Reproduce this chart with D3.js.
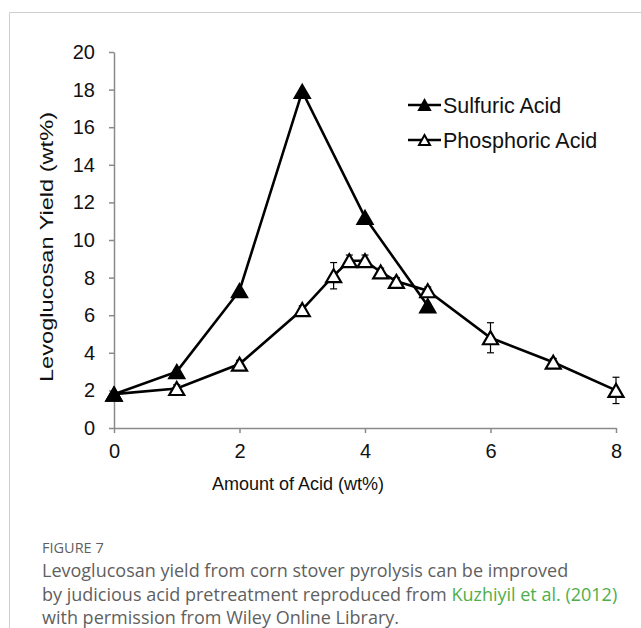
<!DOCTYPE html>
<html>
<head>
<meta charset="utf-8">
<script src="https://cdn.jsdelivr.net/npm/d3@7"></script>
<style>
  html, body { margin: 0; padding: 0; background: #fff; }
  svg { display: block; }
  .axis path, .axis line { stroke: #8a8a8a; stroke-width: 1.5; }
  .axis text { font-family: 'Liberation Sans', Arial, sans-serif; font-size: 20px; fill: #111; }
</style>
</head>
<body>
<div id="chart"></div>
<script>
// acid loading (wt%) and levoglucosan yield (wt%)
var sulfuricX = [0, 1, 2, 3, 4, 5]
var sulfuricY = [1.8, 3.0, 7.3, 17.9, 11.2, 6.5]

var phosphoricX = [0, 1, 2, 3, 3.5, 3.75, 4, 4.25, 4.5, 5, 6, 7, 8]
var phosphoricY = [1.8, 2.1, 3.4, 6.3, 8.1, 8.9, 8.9, 8.3, 7.8, 7.3, 4.8, 3.5, 2.0]
var phosphoricErr = [0.1, 0.2, 0.2, 0.2, 0.7, 0.3, 0.3, 0.2, 0.2, 0.2, 0.8, 0.2, 0.7]

var xTicks = [0, 2, 4, 6, 8]
var yTicks = [0, 2, 4, 6, 8, 10, 12, 14, 16, 18, 20]
var seriesNames = ['Sulfuric Acid', 'Phosphoric Acid']

var width = 641
var height = 628

var svg = d3.select('#chart').append('svg')
  .attr('width', width)
  .attr('height', height)

// card frame
svg.append('path')
  .attr('d', 'M9.5,' + height + 'V12.5H' + width)
  .attr('fill', 'none')
  .attr('stroke', '#cfcfcf')
  .attr('stroke-width', 1)

var x = d3.scaleLinear().domain([0, 8]).range([114, 616])
var y = d3.scaleLinear().domain([0, 20]).range([428, 52])

var xAxis = d3.axisBottom(x).tickValues(xTicks).tickSize(5).tickSizeOuter(0).tickPadding(11)
var yAxis = d3.axisLeft(y).tickValues(yTicks).tickSize(5).tickSizeOuter(0).tickPadding(14)

svg.append('g')
  .attr('class', 'x axis')
  .attr('transform', 'translate(0,' + y(0) + ')')
  .call(xAxis)

svg.append('g')
  .attr('class', 'y axis')
  .attr('transform', 'translate(' + x(0) + ',0)')
  .call(yAxis)

// axis titles
svg.append('text')
  .attr('x', 298)
  .attr('y', 490)
  .attr('text-anchor', 'middle')
  .style('font-family', "'Liberation Sans', Arial, sans-serif")
  .style('font-size', '18px')
  .attr('fill', '#111')
  .text('Amount of Acid (wt%)')

svg.append('text')
  .attr('transform', 'translate(53,247) rotate(-90)')
  .attr('text-anchor', 'middle')
  .attr('textLength', 270)
  .attr('lengthAdjust', 'spacingAndGlyphs')
  .style('font-family', "'Liberation Sans', Arial, sans-serif")
  .style('font-size', '19px')
  .attr('fill', '#111')
  .text('Levoglucosan Yield (wt%)')

function triangle (w, h) {
  return 'M0,' + (-h / 2) + 'L' + (w / 2) + ',' + (h / 2) + 'L' + (-w / 2) + ',' + (h / 2) + 'Z'
}

var line = d3.line()
  .x(function (d) { return x(d[0]) })
  .y(function (d) { return y(d[1]) })

var sulfuric = sulfuricX.map(function (v, i) { return [v, sulfuricY[i]] })
var phosphoric = phosphoricX.map(function (v, i) { return [v, phosphoricY[i], phosphoricErr[i]] })

var plot = svg.append('g').attr('class', 'plot')

plot.append('path')
  .datum(sulfuric)
  .attr('d', line)
  .attr('fill', 'none')
  .attr('stroke', '#000')
  .attr('stroke-width', 2.6)

plot.append('path')
  .datum(phosphoric)
  .attr('d', line)
  .attr('fill', 'none')
  .attr('stroke', '#000')
  .attr('stroke-width', 2.6)

// error bars
var err = plot.append('g').selectAll('g')
  .data(phosphoric)
  .join('g')
  .attr('stroke', '#000')
  .attr('stroke-width', 1.2)

err.append('line')
  .attr('x1', function (d) { return x(d[0]) })
  .attr('x2', function (d) { return x(d[0]) })
  .attr('y1', function (d) { return y(d[1] - d[2]) })
  .attr('y2', function (d) { return y(d[1] + d[2]) })

err.append('line')
  .attr('x1', function (d) { return x(d[0]) - 3.5 })
  .attr('x2', function (d) { return x(d[0]) + 3.5 })
  .attr('y1', function (d) { return y(d[1] + d[2]) })
  .attr('y2', function (d) { return y(d[1] + d[2]) })

err.append('line')
  .attr('x1', function (d) { return x(d[0]) - 3.5 })
  .attr('x2', function (d) { return x(d[0]) + 3.5 })
  .attr('y1', function (d) { return y(d[1] - d[2]) })
  .attr('y2', function (d) { return y(d[1] - d[2]) })

plot.append('g').selectAll('path')
  .data(phosphoric)
  .join('path')
  .attr('transform', function (d) { return 'translate(' + x(d[0]) + ',' + y(d[1]) + ')' })
  .attr('d', triangle(15, 13))
  .attr('fill', '#fff')
  .attr('stroke', '#000')
  .attr('stroke-width', 2.2)
  .attr('stroke-linejoin', 'miter')

plot.append('g').selectAll('path')
  .data(sulfuric)
  .join('path')
  .attr('transform', function (d) { return 'translate(' + x(d[0]) + ',' + y(d[1]) + ')' })
  .attr('d', triangle(15, 13))
  .attr('fill', '#000')
  .attr('stroke', '#000')
  .attr('stroke-width', 2.2)

// legend
var legend = svg.append('g').selectAll('g')
  .data(seriesNames)
  .join('g')
  .attr('transform', function (d, i) { return 'translate(408,' + (105 + i * 35) + ')' })

legend.append('line')
  .attr('x1', 0).attr('x2', 33)
  .attr('stroke', '#000')
  .attr('stroke-width', 2.6)

legend.append('path')
  .attr('transform', 'translate(16.5,0)')
  .attr('d', triangle(11, 10))
  .attr('fill', function (d, i) { return i === 0 ? '#000' : '#fff' })
  .attr('stroke', '#000')
  .attr('stroke-width', 2)

legend.append('text')
  .attr('x', 35)
  .attr('dy', '0.36em')
  .style('font-family', "'Liberation Sans', Arial, sans-serif")
  .style('font-size', '21.5px')
  .attr('fill', '#111')
  .text(function (d) { return d })

// caption
var caption = svg.append('g')
  .style('font-family', "'Open Sans', sans-serif")
  .attr('fill', '#5f5f5f')

caption.append('text')
  .attr('x', 42).attr('y', 553)
  .style('font-size', '14.5px')
  .text('FIGURE 7')

caption.append('text')
  .attr('x', 42).attr('y', 577)
  .style('font-size', '18px')
  .text('Levoglucosan yield from corn stover pyrolysis can be improved')

var line2 = caption.append('text')
  .attr('x', 42).attr('y', 601)
  .style('font-size', '18px')
line2.append('tspan').text('by judicious acid pretreatment reproduced from ')
line2.append('tspan').attr('fill', '#4fae4a').text('Kuzhiyil et al. (2012)')

caption.append('text')
  .attr('x', 42).attr('y', 624)
  .style('font-size', '18px')
  .text('with permission from Wiley Online Library.')
</script>
</body>
</html>
